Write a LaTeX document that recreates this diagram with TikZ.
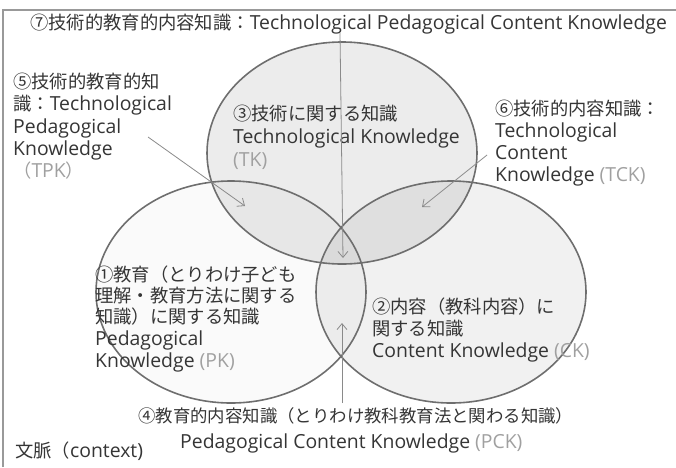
\documentclass[tikz,border=0pt]{standalone}
\usepackage{fontspec}
\setmainfont{Open Sans}
\newfontfamily\jpfam{Noto Sans CJK JP}
\newcommand{\jp}{\jpfam\fontsize{18.3}{22}\selectfont}
\newcommand{\jps}{\jpfam\fontsize{17.4}{22}\selectfont}
\usetikzlibrary{arrows.meta,shapes.geometric}
\definecolor{txt}{HTML}{353535}
\definecolor{sub}{HTML}{A0A0A0}
\definecolor{edge}{HTML}{6E6E6E}
\definecolor{arr}{HTML}{8A8A8A}
\definecolor{framec}{HTML}{999999}
\begin{document}
\begin{tikzpicture}[x=1pt,y=-1pt,
  lbl/.style={anchor=base west, inner sep=0pt, text=txt, font=\fontsize{19.4}{22}\selectfont},
  vennfill/.style={ellipse, minimum width=270pt, minimum height=222pt, inner sep=0pt, fill=black},
  vennedge/.style={ellipse, minimum width=270pt, minimum height=222pt, inner sep=0pt, draw=edge, line width=1.6pt},
  pointer/.style={draw=arr, line width=0.8pt, -{Straight Barb[length=6pt,width=10pt]}},
]
\useasboundingbox (0,0) rectangle (676,467);
\draw[framec, line width=2pt] (3,467) -- (3,10) -- (676,10);

% fills
\node[vennfill, fill opacity=0.075] (TKf) at (342,153) {};
\node[vennfill, fill opacity=0.018] (PKf) at (231,292) {};
\node[vennfill, fill opacity=0.055] (CKf) at (451,292) {};
% edges
\node[vennedge] (TK) at (342,153) {};
\node[vennedge] (PK) at (231,292) {};
\node[vennedge] (CK) at (451,292) {};

% (7)
\node[lbl] (t7) at (30,29) {{\jp ⑦技術的教育的内容知識：}Technological Pedagogical Content Knowledge};
% (5)
\node[lbl] (t5a) at (13,88) {\jp ⑤技術的教育的知};
\node[lbl] (t5b) at (13,110) {{\jp 識：}Technological};
\node[lbl] (t5c) at (13,133) {Pedagogical};
\node[lbl] (t5d) at (13,155) {Knowledge};
\node[lbl, text=sub] (t5e) at (13,177) {{\jp （}TPK{\jp ）}};
% (3)
\node[lbl] (t3a) at (233,120) {\jp ③技術に関する知識};
\node[lbl] (t3b) at (233,143) {Technological Knowledge};
\node[lbl, text=sub] (t3c) at (233,166) {(TK)};
% (6)
\node[lbl] (t6a) at (495,115) {\jp ⑥技術的内容知識：};
\node[lbl] (t6b) at (495,137) {Technological};
\node[lbl] (t6c) at (495,159) {Content};
\node[lbl] (t6d) at (495,181) {Knowledge \textcolor{sub}{(TCK)}};
% (1)
\node[lbl] (t1a) at (95,281) {\jp ①教育（とりわけ子ども};
\node[lbl] (t1b) at (95,302) {\jp 理解・教育方法に関する};
\node[lbl] (t1c) at (95,323) {\jp 知識）に関する知識};
\node[lbl] (t1d) at (95,345) {Pedagogical};
\node[lbl] (t1e) at (95,367) {Knowledge \textcolor{sub}{(PK)}};
% (2)
\node[lbl] (t2a) at (372,313) {\jp ②内容（教科内容）に};
\node[lbl] (t2b) at (372,335) {\jp 関する知識};
\node[lbl] (t2c) at (372,357) {Content Knowledge \textcolor{sub}{(CK)}};
% (4)
\node[lbl] (t4a) at (138,422) {\jps ④教育的内容知識（とりわけ教科教育法と関わる知識）};
\node[lbl] (t4b) at (180,448) {Pedagogical Content Knowledge \textcolor{sub}{(PCK)}};
% context
\node[lbl] (ctx) at (15,457) {{\jp 文脈（}context)};

% pointers
\coordinate (p7s) at (340,33);
\coordinate (p7e) at (343,258);
\coordinate (p5s) at (148,137);
\coordinate (p5e) at (245,206);
\coordinate (p6s) at (487,155);
\coordinate (p6e) at (422,207);
\coordinate (p4s) at (342,403);
\coordinate (p4e) at (342,323);
\draw[pointer] (p7s) -- (p7e);
\draw[pointer] (p5s) -- (p5e);
\draw[pointer] (p6s) -- (p6e);
\draw[pointer] (p4s) -- (p4e);
\end{tikzpicture}
\end{document}
